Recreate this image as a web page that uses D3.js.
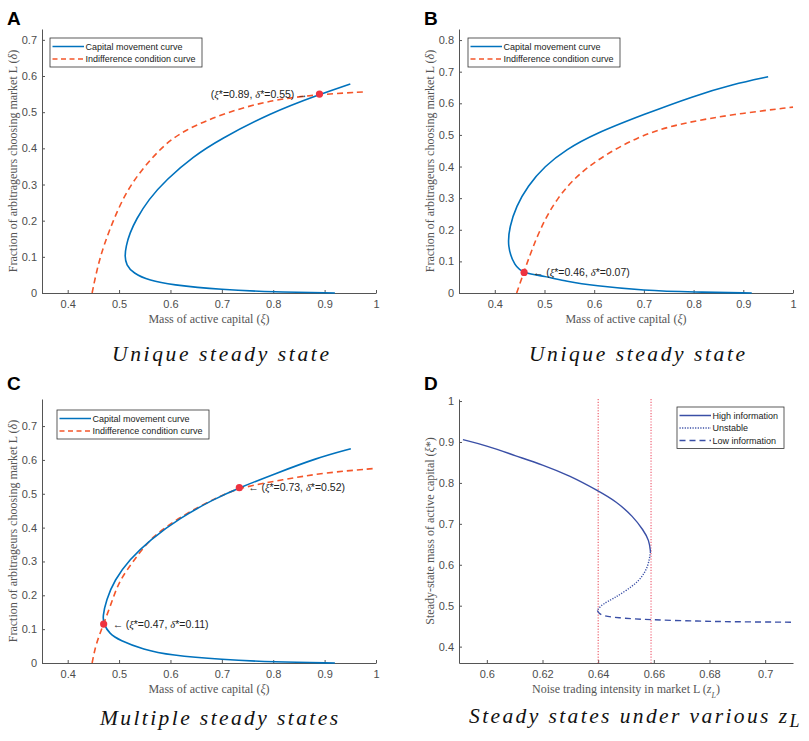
<!DOCTYPE html>
<html>
<head>
<meta charset="utf-8">
<script src="https://cdn.jsdelivr.net/npm/d3@7"></script>
<style>
  body { margin: 0; background: #fff; }
  .axis path, .axis line { stroke: #555; }
  .axis text { font-family: "Liberation Sans", Arial, sans-serif; font-size: 11px; fill: #4d4d4d; }
  .lbl { font-family: "Liberation Serif", "Times New Roman", serif; font-size: 12px; fill: #555; }
  .leg { font-family: "Liberation Sans", Arial, sans-serif; font-size: 9px; fill: #222; }
  .ann { font-family: "Liberation Sans", Arial, sans-serif; font-size: 10.5px; fill: #222; }
  .cap { font-family: "Liberation Serif", "Times New Roman", serif; font-style: italic; font-size: 21.5px; fill: #111; }
  .tag { font-family: "Liberation Sans", Arial, sans-serif; font-weight: bold; font-size: 19px; fill: #000; }
</style>
</head>
<body>
<svg width="809" height="741"></svg>
<script>
// ---- data ----
// panel A
const aCapDelta = [0, 0.003, 0.009, 0.023, 0.034, 0.055, 0.078, 0.101, 0.13, 0.166, 0.203, 0.258, 0.314, 0.378, 0.424, 0.498, 0.549, 0.578];
const aCapXi    = [0.92, 0.80, 0.70, 0.60, 0.56, 0.527, 0.514, 0.511, 0.5135, 0.521, 0.533, 0.557, 0.592, 0.645, 0.695, 0.795, 0.89, 0.95];
const aIndXi    = [0.4475, 0.462, 0.488, 0.52, 0.579, 0.625, 0.709, 0.80, 0.89, 0.976];
const aIndDelta = [0, 0.1, 0.2, 0.3, 0.4, 0.45, 0.5, 0.535, 0.549, 0.556];
const aEq = [[0.89, 0.55]];
const aEqLabels = [["0.89", "0.55"]];

// panel B
const bCapDelta = [0, 0.003, 0.008, 0.023, 0.037, 0.053, 0.063, 0.084, 0.148, 0.211, 0.274, 0.338, 0.401, 0.454, 0.503, 0.565, 0.623, 0.66, 0.684];
const bCapXi    = [0.917, 0.80, 0.70, 0.60, 0.544, 0.50, 0.458, 0.44, 0.425, 0.43, 0.443, 0.466, 0.50, 0.544, 0.60, 0.70, 0.80, 0.879, 0.95];
const bIndXi    = [0.444, 0.458, 0.466, 0.49, 0.524, 0.581, 0.691, 0.779, 0.879, 1.0];
const bIndDelta = [0, 0.063, 0.1, 0.2, 0.3, 0.4, 0.5, 0.538, 0.565, 0.588];
const bEq = [[0.459, 0.065]];
const bEqLabels = [["0.46", "0.07"]];

// panel C
const cCapDelta = [0, 0.003, 0.01, 0.023, 0.04, 0.067, 0.087, 0.115, 0.137, 0.186, 0.245, 0.305, 0.364, 0.428, 0.483, 0.518, 0.557, 0.606, 0.633];
const cCapXi    = [0.92, 0.80, 0.70, 0.60, 0.547, 0.501, 0.481, 0.47, 0.468, 0.475, 0.491, 0.52, 0.56, 0.618, 0.683, 0.734, 0.80, 0.885, 0.951];
const cIndXi    = [0.4475, 0.455, 0.47, 0.487, 0.501, 0.53, 0.563, 0.631, 0.696, 0.734, 0.82, 0.898, 0.999];
const cIndDelta = [0, 0.057, 0.115, 0.186, 0.245, 0.305, 0.374, 0.443, 0.493, 0.518, 0.542, 0.562, 0.575];
const cEq = [[0.734, 0.518], [0.47, 0.115]];
const cEqLabels = [["0.73", "0.52"], ["0.47", "0.11"]];

// panel D
const dHighZ   = [0.5914, 0.6, 0.6102, 0.62, 0.6299, 0.6398, 0.6466, 0.6526, 0.6562, 0.6583, 0.6588];
const dHighXi  = [0.9057, 0.891, 0.8664, 0.8444, 0.8173, 0.7813, 0.7543, 0.7175, 0.6848, 0.6602, 0.6316];
const dUnstZ   = [0.6588, 0.658, 0.655, 0.6502, 0.6454, 0.6418, 0.64, 0.6397];
const dUnstXi  = [0.6316, 0.5948, 0.562, 0.5375, 0.517, 0.5047, 0.4925, 0.4884];
const dLowZ    = [0.6397, 0.6406, 0.6466, 0.6585, 0.6765, 0.6884, 0.71];
const dLowXi   = [0.4884, 0.4761, 0.4704, 0.4655, 0.4622, 0.4606, 0.4597];
const dThresholds = [0.64, 0.659];

// ticks
const xiTicks = [0.4, 0.5, 0.6, 0.7, 0.8, 0.9, 1];
const deltaTicks7 = [0, 0.1, 0.2, 0.3, 0.4, 0.5, 0.6, 0.7];
const deltaTicks8 = [0, 0.1, 0.2, 0.3, 0.4, 0.5, 0.6, 0.7, 0.8];
const zTicks = [0.6, 0.62, 0.64, 0.66, 0.68, 0.7];
const xiStarTicks = [0.4, 0.5, 0.6, 0.7, 0.8, 0.9, 1];

const blue = "#0072BD", orange = "#f4562a", dotRed = "#ee3340", navy = "#3a4fa6";

const svg = d3.select("svg");
const fmt = d => String(+d.toFixed(2));

function drawAxes(box, xDom, yDom, xT, yT) {
  const x = d3.scaleLinear().domain(xDom).range([box.x0, box.x1]);
  const y = d3.scaleLinear().domain(yDom).range([box.y1, box.y0]);
  svg.append("g").attr("class", "axis")
    .attr("transform", `translate(0,${box.y1})`)
    .call(d3.axisBottom(x).tickValues(xT).tickFormat(fmt).tickSizeInner(-3).tickSizeOuter(0).tickPadding(7));
  svg.append("g").attr("class", "axis")
    .attr("transform", `translate(${box.x0},0)`)
    .call(d3.axisLeft(y).tickValues(yT).tickFormat(fmt).tickSizeInner(-3).tickSizeOuter(0).tickPadding(5));
  return { x, y };
}

function labels(box, xParts, yParts) {
  const xl = svg.append("text").attr("class", "lbl").attr("text-anchor", "middle")
    .attr("x", (box.x0 + box.x1) / 2).attr("y", box.y1 + 30);
  xParts.forEach(p => xl.append("tspan").attr("font-style", p[1] ? "italic" : null)
    .attr("baseline-shift", p[2] || null).attr("font-size", p[2] ? "8px" : null).text(p[0]));
  const yl = svg.append("text").attr("class", "lbl").attr("text-anchor", "middle")
    .attr("transform", `translate(${box.x0 - 25},${(box.y0 + box.y1) / 2}) rotate(-90)`);
  yParts.forEach(p => yl.append("tspan").attr("font-style", p[1] ? "italic" : null)
    .attr("baseline-shift", p[2] || null).attr("font-size", p[2] ? "8px" : null).text(p[0]));
}

function legend(x0, y0, w, items) {
  const g = svg.append("g").attr("transform", `translate(${x0},${y0})`);
  g.append("rect").attr("width", w).attr("height", items.length * 12.5 + 4)
    .attr("fill", "#fff").attr("stroke", "#333").attr("stroke-width", 0.8);
  items.forEach((it, i) => {
    const yy = 8.5 + i * 12.5;
    g.append("line").attr("x1", 2.5).attr("x2", 34).attr("y1", yy).attr("y2", yy)
      .attr("stroke", it.color).attr("stroke-width", 1.5).attr("stroke-dasharray", it.dash);
    g.append("text").attr("class", "leg").attr("x", 35.5).attr("y", yy + 3.2).text(it.name);
  });
}

function eqLabel(x, y, pt, lab, side) {
  const t = svg.append("text").attr("class", "ann").attr("y", y(pt[1]) + 3.5);
  if (side === "left") {
    t.attr("x", x(pt[0]) - 12).attr("text-anchor", "end");
  } else {
    t.attr("x", x(pt[0]) + 9);
    t.append("tspan").attr("font-family", "Liberation Serif").text("\u2190 ");
  }
  t.append("tspan").text("(");
  t.append("tspan").attr("font-family", "Liberation Serif").attr("font-style", "italic").text("\u03BE");
  t.append("tspan").text("*=" + lab[0] + ", ");
  t.append("tspan").attr("font-family", "Liberation Serif").attr("font-style", "italic").text("\u03B4");
  t.append("tspan").text("*=" + lab[1] + ")");
  if (side === "left") t.append("tspan").attr("font-family", "Liberation Serif").text(" \u2192");
}

const curve = d3.curveBasis;

function steadyPanel(cfg) {
  const { x, y } = drawAxes(cfg.box, cfg.xDom, cfg.yDom, xiTicks, cfg.yTicks);
  const line = d3.line().x(d => x(d[0])).y(d => y(d[1])).curve(curve);
  svg.append("path").datum(d3.zip(cfg.indXi, cfg.indDelta)).attr("d", line)
    .attr("fill", "none").attr("stroke", orange).attr("stroke-width", 1.6).attr("stroke-dasharray", "6,4");
  svg.append("path").datum(d3.zip(cfg.capXi, cfg.capDelta)).attr("d", line)
    .attr("fill", "none").attr("stroke", blue).attr("stroke-width", 1.6);
  cfg.eq.forEach((p, i) => {
    svg.append("circle").attr("cx", x(p[0])).attr("cy", y(p[1])).attr("r", 3.6).attr("fill", dotRed);
    eqLabel(x, y, p, cfg.eqLabels[i], cfg.side);
  });
  legend(cfg.legX, cfg.legY, 152, [
    { name: "Capital movement curve", color: blue, dash: null },
    { name: "Indifference condition curve", color: orange, dash: "5,3.5" }
  ]);
  labels(cfg.box, [["Mass of active capital ("], ["\u03BE", true], [")"]],
    [["Fraction of arbitrageurs choosing market L ("], ["\u03B4", true], [")"]]);
  svg.append("text").attr("class", "tag").attr("x", cfg.tag[0]).attr("y", cfg.tag[1]).text(cfg.name);
  svg.append("text").attr("class", "cap").attr("x", cfg.cap[0]).attr("y", cfg.cap[1])
    .attr("textLength", cfg.cap[2]).attr("lengthAdjust", "spacing").text(cfg.caption);
}

steadyPanel({
  name: "A", box: { x0: 42, x1: 376, y0: 29, y1: 293 }, xDom: [0.35, 1], yDom: [0, 0.73], yTicks: deltaTicks7,
  capXi: aCapXi, capDelta: aCapDelta, indXi: aIndXi, indDelta: aIndDelta, eq: aEq, eqLabels: aEqLabels, side: "left",
  legX: 50, legY: 38, tag: [7, 25], cap: [112, 361, 217], caption: "Unique steady state"
});
steadyPanel({
  name: "B", box: { x0: 459, x1: 793, y0: 29, y1: 293 }, xDom: [0.328, 1], yDom: [0, 0.835], yTicks: deltaTicks8,
  capXi: bCapXi, capDelta: bCapDelta, indXi: bIndXi, indDelta: bIndDelta, eq: bEq, eqLabels: bEqLabels, side: "right",
  legX: 468, legY: 38, tag: [424, 25], cap: [529, 361, 216], caption: "Unique steady state"
});
steadyPanel({
  name: "C", box: { x0: 42, x1: 376, y0: 399, y1: 663 }, xDom: [0.35, 1], yDom: [0, 0.78], yTicks: deltaTicks7,
  capXi: cCapXi, capDelta: cCapDelta, indXi: cIndXi, indDelta: cIndDelta, eq: cEq, eqLabels: cEqLabels, side: "right",
  legX: 57, legY: 410, tag: [7, 390], cap: [100, 725, 238], caption: "Multiple steady states"
});

// panel D
(function () {
  const box = { x0: 459, x1: 793, y0: 399, y1: 663 };
  const { x, y } = drawAxes(box, [0.59, 0.71], [0.36, 1.005], zTicks, xiStarTicks);
  const line = d3.line().x(d => x(d[0])).y(d => y(d[1])).curve(curve);

  svg.selectAll(".thr").data(dThresholds).enter().append("line")
    .attr("x1", d => x(d)).attr("x2", d => x(d)).attr("y1", box.y0).attr("y2", box.y1)
    .attr("stroke", (d, i) => i ? "#f27a8c" : "#e8404f").attr("stroke-width", (d, i) => i ? 1.4 : 1)
    .attr("stroke-dasharray", "1.2,1.6");

  svg.append("path").datum(d3.zip(dHighZ, dHighXi)).attr("d", line)
    .attr("fill", "none").attr("stroke", navy).attr("stroke-width", 1.4);
  svg.append("path").datum(d3.zip(dUnstZ, dUnstXi)).attr("d", line)
    .attr("fill", "none").attr("stroke", navy).attr("stroke-width", 1.4).attr("stroke-dasharray", "1.2,1.4");
  svg.append("path").datum(d3.zip(dLowZ, dLowXi)).attr("d", line)
    .attr("fill", "none").attr("stroke", navy).attr("stroke-width", 1.4).attr("stroke-dasharray", "6,4");

  legend(677, 407, 107, [
    { name: "High information", color: navy, dash: null },
    { name: "Unstable", color: navy, dash: "1.2,1.4" },
    { name: "Low information", color: navy, dash: "6,4" }
  ]);
  labels(box, [["Noise trading intensity in market L ("], ["z", true], ["L", true, "sub"], [")"]],
    [["Steady-state mass of active capital ("], ["\u03BE", true], ["*"], [")"]]);
  svg.append("text").attr("class", "tag").attr("x", 424).attr("y", 390).text("D");
  const c = svg.append("text").attr("class", "cap").attr("x", 469).attr("y", 723);
  c.append("tspan").attr("textLength", 318).attr("lengthAdjust", "spacing").text("Steady states under various z");
  c.append("tspan").attr("dy", 4).attr("font-size", "18px").text("L");
})();
</script>
</body>
</html>
